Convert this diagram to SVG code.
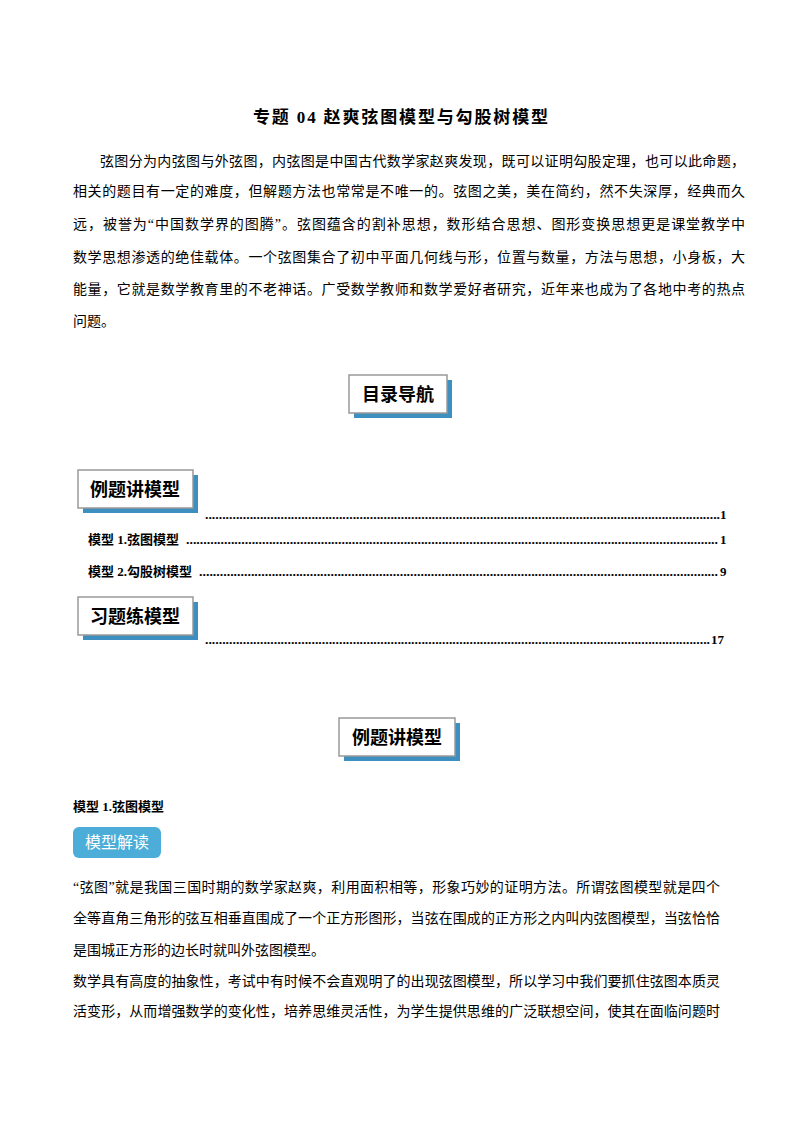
<svg xmlns="http://www.w3.org/2000/svg" width="800" height="1132" viewBox="0 0 800 1132">
<style>
text{font-family:"Liberation Serif","Noto Sans CJK SC",serif;fill:#000}
.b{font-size:14px}
.t{font-size:17px;font-weight:bold}
.h{font-size:18px;font-weight:bold;font-family:"Noto Sans CJK SC",sans-serif}
.m{font-size:13px;font-weight:bold}
.d{font-size:13px;font-weight:bold}
.box{fill:#fff;stroke:#999;stroke-width:1.5}
.sh{fill:#3d8fbf}
</style>
<rect width="800" height="1132" fill="#fff"/>
<text class="t" x="253" y="123" textLength="295" lengthAdjust="spacing">专题 04  赵爽弦图模型与勾股树模型</text>
<g class="b">
<text class="b" x="100" y="166" textLength="645" lengthAdjust="spacing">弦图分为内弦图与外弦图，内弦图是中国古代数学家赵爽发现，既可以证明勾股定理，也可以此命题，</text>
<text class="b" x="73" y="196" textLength="672" lengthAdjust="spacing">相关的题目有一定的难度，但解题方法也常常是不唯一的。弦图之美，美在简约，然不失深厚，经典而久</text>
<text class="b" x="73" y="229" textLength="672" lengthAdjust="spacing">远，被誉为“中国数学界的图腾”。弦图蕴含的割补思想，数形结合思想、图形变换思想更是课堂教学中</text>
<text class="b" x="73" y="262" textLength="672" lengthAdjust="spacing">数学思想渗透的绝佳载体。一个弦图集合了初中平面几何线与形，位置与数量，方法与思想，小身板，大</text>
<text class="b" x="73" y="294" textLength="672" lengthAdjust="spacing">能量，它就是数学教育里的不老神话。广受数学教师和数学爱好者研究，近年来也成为了各地中考的热点</text>
<text class="b" x="73" y="326">问题。</text>
</g>
<g id="toc-title"><rect class="sh" x="354" y="380" width="98" height="38"/><rect class="box" x="349" y="375" width="98" height="38"/><text class="h" x="398" y="401" text-anchor="middle">目录导航</text></g>
<g id="toc1"><rect class="sh" x="83" y="475" width="115" height="38"/><rect class="box" x="78" y="470" width="115" height="38"/><text class="h" x="135" y="496" text-anchor="middle">例题讲模型</text></g>
<text class="d" x="205" y="519" textLength="515" lengthAdjust="spacingAndGlyphs">......................................................................................................................................................</text><text class="d" x="720" y="519">1</text>
<text class="m" x="88" y="544">模型 1.弦图模型</text>
<text class="d" x="186" y="544" textLength="532" lengthAdjust="spacingAndGlyphs">..........................................................................................................................................................</text><text class="d" x="720" y="544">1</text>
<text class="m" x="88" y="576">模型 2.勾股树模型</text>
<text class="d" x="199" y="576" textLength="519" lengthAdjust="spacingAndGlyphs">......................................................................................................................................................</text><text class="d" x="720" y="576">9</text>
<g id="toc2"><rect class="sh" x="83" y="602" width="115" height="38"/><rect class="box" x="78" y="597" width="115" height="38"/><text class="h" x="135" y="623" text-anchor="middle">习题练模型</text></g>
<text class="d" x="205" y="644" textLength="505" lengthAdjust="spacingAndGlyphs">...................................................................................................................................................</text><text class="d" x="711" y="644">17</text>
<g id="sec"><rect class="sh" x="344" y="723" width="116" height="38"/><rect class="box" x="339" y="718" width="116" height="38"/><text class="h" x="397" y="744" text-anchor="middle">例题讲模型</text></g>
<text class="m" x="73" y="811">模型 1.弦图模型</text>
<g id="badge"><rect x="73" y="827" width="88" height="31" rx="6" fill="#4badd8"/><text x="117" y="848" text-anchor="middle" style="font-family:'Noto Sans CJK SC',sans-serif;font-size:16px;fill:#fff">模型解读</text></g>
<text class="b" x="73" y="892" textLength="647" lengthAdjust="spacing">“弦图”就是我国三国时期的数学家赵爽，利用面积相等，形象巧妙的证明方法。所谓弦图模型就是四个</text>
<text class="b" x="73" y="923" textLength="647" lengthAdjust="spacing">全等直角三角形的弦互相垂直围成了一个正方形图形，当弦在围成的正方形之内叫内弦图模型，当弦恰恰</text>
<text class="b" x="73" y="955">是围城正方形的边长时就叫外弦图模型。</text>
<text class="b" x="73" y="986" textLength="647" lengthAdjust="spacing">数学具有高度的抽象性，考试中有时候不会直观明了的出现弦图模型，所以学习中我们要抓住弦图本质灵</text>
<text class="b" x="73" y="1016" textLength="647" lengthAdjust="spacing">活变形，从而增强数学的变化性，培养思维灵活性，为学生提供思维的广泛联想空间，使其在面临问题时</text>
</svg>
